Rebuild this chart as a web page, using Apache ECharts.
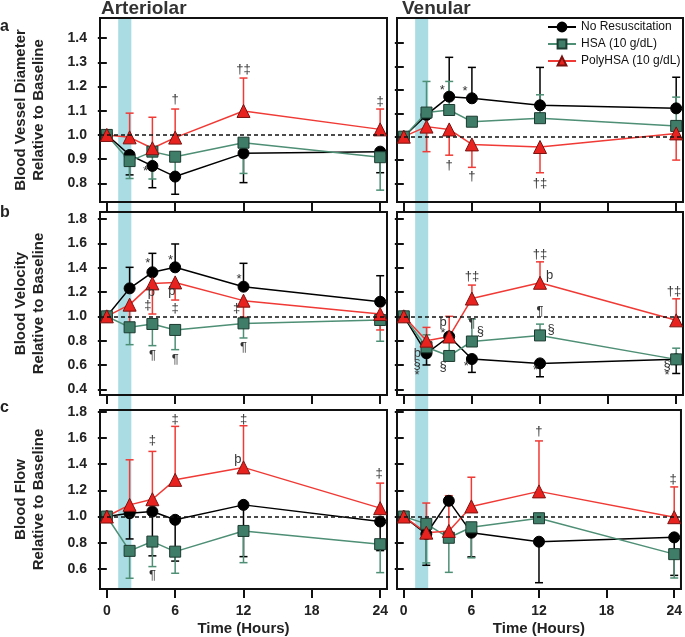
<!DOCTYPE html>
<html>
<head>
<meta charset="utf-8">
<script src="https://cdn.jsdelivr.net/npm/echarts@6/dist/echarts.min.js"></script>
<style>
  html, body { margin: 0; padding: 0; background: #fff; }
  #main { width: 685px; height: 637px; }
</style>
</head>
<body>
<div id="main"></div>
<script>
// time points (hours)
var hours = [0, 2, 4, 6, 12, 24]
var xTicks = [0, 6, 12, 18, 24]
var diamTicks = [0.8, 0.9, 1.0, 1.1, 1.2, 1.3, 1.4]
var velTicks = [0.4, 0.6, 0.8, 1.0, 1.2, 1.4, 1.6, 1.8]
var flowTicks = [0.6, 0.8, 1.0, 1.2, 1.4, 1.6, 1.8]
var seriesNames = ['No Resuscitation', 'HSA (10 g/dL)', 'PolyHSA (10 g/dL)']

// a - vessel diameter, arteriolar
var artDiamNone = [1.0, 0.917, 0.872, 0.828, 0.924, 0.931]
var artDiamNoneErr = [null, 0.835, 0.782, 0.755, 0.803, 0.844]
var artDiamHsa = [1.0, 0.892, 0.931, 0.910, 0.968, 0.908]
var artDiamHsaErr = [null, 0.820, 0.818, 0.830, 0.841, 0.772]
var artDiamPoly = [1.0, 0.990, 0.945, 0.989, 1.099, 1.023]
var artDiamPolyErr = [null, 1.090, 1.073, 1.107, 1.235, 1.107]
var artDiamMarks = [[3.4, 0.85, '*'], [6, 1.145, '†'], [12, 1.27, '†‡'], [24, 1.14, '‡']]

// a - vessel diameter, venular
var venDiamNone = [1.0, 1.093, 1.171, 1.164, 1.134, 1.121]
var venDiamNoneErr = [null, null, 1.339, 1.296, 1.296, 1.254]
var venDiamHsa = [1.0, 1.103, 1.114, 1.064, 1.079, 1.046]
var venDiamHsaErr = [null, 1.236, 1.236, null, 1.179, 1.169]
var venDiamPoly = [1.0, 1.043, 1.031, 0.967, 0.956, 1.014]
var venDiamPolyErr = [null, 0.936, 0.921, 0.869, 0.846, 0.900]
var venDiamMarks = [[3.4, 1.197, '*'], [5.4, 1.193, '*'], [4, 0.879, '†'], [6, 0.829, '†'], [12, 0.80, '†‡']]

// b - velocity, arteriolar
var artVelNone = [1.0, 1.230, 1.362, 1.403, 1.244, 1.120]
var artVelNoneErr = [null, 1.403, 1.518, 1.595, 1.436, 1.334]
var artVelHsa = [1.0, 0.910, 0.937, 0.888, 0.942, 0.970]
var artVelHsaErr = [null, 0.767, 0.759, 0.726, 0.822, 0.795]
var artVelPoly = [1.0, 1.096, 1.271, 1.279, 1.129, 1.019]
var artVelPolyErr = [null, 0.900, 1.019, 1.134, 0.992, 0.888]
var artVelMarks = [[3.6, 1.436, '*'], [5.6, 1.463, '*'], [11.6, 1.307, '*'], [3.9, 1.197, 'þ'], [3.6, 1.088, '‡'],
  [5.7, 1.205, 'þ'], [6, 1.068, '‡'], [11.4, 1.068, '‡'], [4, 0.677, '¶'], [6, 0.649, '¶'], [12, 0.745, '¶']]

// b - velocity, venular
var venVelNone = [1.0, 0.696, 0.834, 0.649, 0.613, 0.646]
var venVelNoneErr = [null, 0.600, null, 0.539, 0.503, 0.530]
var venVelHsa = [1.0, 0.746, 0.674, 0.793, 0.843, 0.646]
var venVelHsaErr = [null, 0.848, 0.800, 0.978, 0.936, 0.738]
var venVelPoly = [1.0, 0.800, 0.834, 1.146, 1.276, 0.967]
var venVelPolyErr = [null, 0.909, 1.000, 1.257, 1.448, 1.144]
var venVelMarks = [[6, 1.326, '†‡'], [12, 1.511, '†‡'], [12.85, 1.337, 'þ'], [23.8, 1.207, '†‡'], [12, 1.041, '¶'],
  [3.46, 0.95, 'þ'], [3.46, 0.856, '*'], [6, 0.939, '¶'], [6.75, 0.876, '§'], [12.97, 0.895, '§'], [3.46, 0.586, '§'],
  [1.2, 0.696, 'þ'], [1.17, 0.608, '§'], [1.17, 0.514, '*'], [5.5, 0.586, '*'], [11.6, 0.558, '*'],
  [23.2, 0.600, '§'], [23.2, 0.514, '*']]

// c - flow, arteriolar
var artFlowNone = [1.0, 1.025, 1.038, 0.975, 1.089, 0.962]
var artFlowNoneErr = [null, 0.829, 0.700, 0.660, 0.694, 0.740]
var artFlowHsa = [1.0, 0.738, 0.809, 0.732, 0.890, 0.789]
var artFlowHsaErr = [null, 0.529, 0.618, 0.567, 0.648, 0.572]
var artFlowPoly = [1.0, 1.089, 1.132, 1.280, 1.375, 1.064]
var artFlowPolyErr = [null, 1.433, 1.497, 1.688, 1.693, 1.255]
var artFlowMarks = [[4, 1.58, '‡'], [6, 1.739, '‡'], [12, 1.739, '‡'], [11.5, 1.438, 'þ'], [23.9, 1.331, '‡'], [4, 0.547, '¶']]

// c - flow, venular
var venFlowNone = [1.0, 0.867, 1.120, 0.877, 0.808, 0.841]
var venFlowNoneErr = [null, 0.628, null, 0.692, 0.495, 0.551]
var venFlowHsa = [1.0, 0.944, 0.838, 0.918, 0.987, 0.713]
var venFlowHsaErr = [null, 0.646, 0.574, 0.685, null, 0.531]
var venFlowPoly = [1.0, 0.877, 0.890, 1.077, 1.192, 0.995]
var venFlowPolyErr = [null, 1.103, 1.159, 1.300, 1.577, 1.226]
var venFlowMarks = [[12, 1.646, '†'], [23.9, 1.287, '‡']]

// resuscitation window (hours)
var bandStart = 1.0
var bandEnd = 2.15

var FONT = '"Liberation Sans", Arial, sans-serif'
var colors = ['#000000', '#3f7d68', '#e8231f']
var lineColors = ['#000000', '#4e8f76', '#f03a35']

var panels = [
  { vals: [artDiamNone, artDiamHsa, artDiamPoly], errs: [artDiamNoneErr, artDiamHsaErr, artDiamPolyErr], marks: artDiamMarks },
  { vals: [venDiamNone, venDiamHsa, venDiamPoly], errs: [venDiamNoneErr, venDiamHsaErr, venDiamPolyErr], marks: venDiamMarks },
  { vals: [artVelNone, artVelHsa, artVelPoly], errs: [artVelNoneErr, artVelHsaErr, artVelPolyErr], marks: artVelMarks },
  { vals: [venVelNone, venVelHsa, venVelPoly], errs: [venVelNoneErr, venVelHsaErr, venVelPolyErr], marks: venVelMarks },
  { vals: [artFlowNone, artFlowHsa, artFlowPoly], errs: [artFlowNoneErr, artFlowHsaErr, artFlowPolyErr], marks: artFlowMarks },
  { vals: [venFlowNone, venFlowHsa, venFlowPoly], errs: [venFlowNoneErr, venFlowHsaErr, venFlowPolyErr], marks: venFlowMarks }
]

var rowTop = [18, 212, 410]
var rowHeight = [184, 183, 179]
var colLeft = [100, 397]
var colWidth = [287, 286]
var rowTicks = [diamTicks, velTicks, flowTicks]
var yRange = [
  [[0.723, 1.483], [0.721, 1.507]],
  [[0.353, 1.858], [0.353, 1.858]],
  [[0.447, 1.813], [0.447, 1.813]]
]
var yNames = ['Blood Vessel Diameter\nRelative to Baseline', 'Blood Velocity\nRelative to Baseline', 'Blood Flow\nRelative to Baseline']
var symbols = ['circle', 'rect', 'triangle']
var symbolSizes = [11, 11, 13]
var borderColors = ['#000000', '#1c3b30', '#7a1210']

var grids = [], xAxes = [], yAxes = [], series = []

function errRender(params, api) {
  var p0 = api.coord([api.value(0), api.value(1)])
  var p1 = api.coord([api.value(0), api.value(2)])
  var c = api.visual('color')
  return {
    type: 'group',
    children: [
      { type: 'line', shape: { x1: p0[0], y1: p0[1], x2: p1[0], y2: p1[1] }, style: { stroke: c, lineWidth: 1.5 } },
      { type: 'line', shape: { x1: p1[0] - 4, y1: p1[1], x2: p1[0] + 4, y2: p1[1] }, style: { stroke: c, lineWidth: 1.5 } }
    ]
  }
}

panels.forEach(function (p, i) {
  var r = Math.floor(i / 2), c = i % 2
  grids.push({ left: colLeft[c], top: rowTop[r], width: colWidth[c], height: rowHeight[r],
    show: true, borderColor: '#111', borderWidth: 2, backgroundColor: 'transparent' })
  var bottom = r === 2
  xAxes.push({
    type: 'value', gridIndex: i, min: -0.6, max: 24.6,
    axisLine: { show: false }, splitLine: { show: false },
    axisTick: { show: true, inside: false, length: 9, customValues: xTicks, lineStyle: { color: '#111', width: 2 } },
    axisLabel: { show: bottom, customValues: xTicks, margin: 15, color: '#222', fontSize: 14, fontWeight: 'bold', fontFamily: FONT },
    name: bottom ? 'Time (Hours)' : '', nameLocation: 'middle', nameGap: 32,
    nameTextStyle: { color: '#222', fontSize: 15, fontWeight: 'bold', fontFamily: FONT }
  })
  yAxes.push({
    type: 'value', gridIndex: i, min: yRange[r][c][0], max: yRange[r][c][1],
    axisLine: { show: false }, splitLine: { show: false },
    axisTick: { show: true, inside: false, length: 9, customValues: rowTicks[r], lineStyle: { color: '#111', width: 2 } },
    axisLabel: { show: c === 0, customValues: rowTicks[r], margin: 13, color: '#222', fontSize: 14, fontWeight: 'bold', fontFamily: FONT,
      formatter: function (v) { return v.toFixed(1) } },
    name: c === 0 ? yNames[r] : '', nameLocation: 'middle', nameRotate: 90, nameGap: 52,
    nameTextStyle: { color: '#222', fontSize: 15, fontWeight: 'bold', fontFamily: FONT, lineHeight: 18 }
  })
  // error bars first so markers sit on top
  p.errs.forEach(function (err, k) {
    var data = []
    hours.forEach(function (h, j) {
      if (err[j] != null) data.push([h, p.vals[k][j], err[j]])
    })
    series.push({
      type: 'custom', xAxisIndex: i, yAxisIndex: i, renderItem: errRender, data: data,
      itemStyle: { color: lineColors[k] }, silent: true, z: 2
    })
  })
  p.vals.forEach(function (vals, k) {
    var s = {
      name: seriesNames[k], type: 'line', xAxisIndex: i, yAxisIndex: i,
      data: hours.map(function (h, j) { return [h, vals[j]] }),
      symbol: symbols[k], symbolSize: symbolSizes[k],
      lineStyle: { color: lineColors[k], width: 1.5 },
      itemStyle: { color: colors[k], borderColor: borderColors[k], borderWidth: 1 },
      animation: false, z: 3
    }
    if (k === 0) {
      s.markLine = {
        silent: true, symbol: 'none', label: { show: false },
        lineStyle: { color: '#111', type: [4, 3], width: 1.5 },
        data: [{ yAxis: 1.0 }]
      }
    }
    series.push(s)
  })
  var marks = p.marks
  series.push({
    type: 'custom', xAxisIndex: i, yAxisIndex: i, silent: true, z: 4,
    data: marks.map(function (m) { return [m[0], m[1]] }),
    renderItem: function (params, api) {
      var pt = api.coord([api.value(0), api.value(1)])
      return {
        type: 'text', x: pt[0], y: pt[1],
        style: { text: marks[params.dataIndex][2], fill: '#333', fontSize: 13, fontFamily: FONT, align: 'center', verticalAlign: 'middle' }
      }
    }
  })
})

var chart = echarts.init(document.getElementById('main'), null, { renderer: 'canvas' })
var option = {
  backgroundColor: '#ffffff',
  animation: false,
  title: [
    { text: 'Arteriolar', left: 101, top: -1, padding: 0, textStyle: { fontSize: 19, fontWeight: 'bold', color: '#333', fontFamily: FONT } },
    { text: 'Venular', left: 402, top: -1, padding: 0, textStyle: { fontSize: 19, fontWeight: 'bold', color: '#333', fontFamily: FONT } },
    { text: 'a', left: 0, top: 19, padding: 0, textStyle: { fontSize: 16, fontWeight: 'bold', color: '#222', fontFamily: FONT } },
    { text: 'b', left: 0, top: 205, padding: 0, textStyle: { fontSize: 16, fontWeight: 'bold', color: '#222', fontFamily: FONT } },
    { text: 'c', left: 0, top: 400, padding: 0, textStyle: { fontSize: 16, fontWeight: 'bold', color: '#222', fontFamily: FONT } }
  ],
  legend: {
    data: seriesNames, orient: 'vertical', left: 547, top: 21, padding: 0,
    itemWidth: 28, itemHeight: 11, itemGap: 5,
    textStyle: { fontSize: 12, color: '#111', fontFamily: FONT }
  },
  grid: grids,
  xAxis: xAxes,
  yAxis: yAxes,
  series: series
}
chart.setOption(option)

// shaded resuscitation window through all three rows
var band = []
;[0, 1].forEach(function (c) {
  var x0 = chart.convertToPixel({ xAxisIndex: c }, bandStart)
  var x1 = chart.convertToPixel({ xAxisIndex: c }, bandEnd)
  band.push({
    type: 'rect', z: -10, silent: true,
    shape: { x: x0, y: rowTop[0], width: x1 - x0, height: rowTop[2] + rowHeight[2] - rowTop[0] },
    style: { fill: '#a9dce3' }
  })
})
chart.setOption({ graphic: { elements: band } })
</script>
</body>
</html>
